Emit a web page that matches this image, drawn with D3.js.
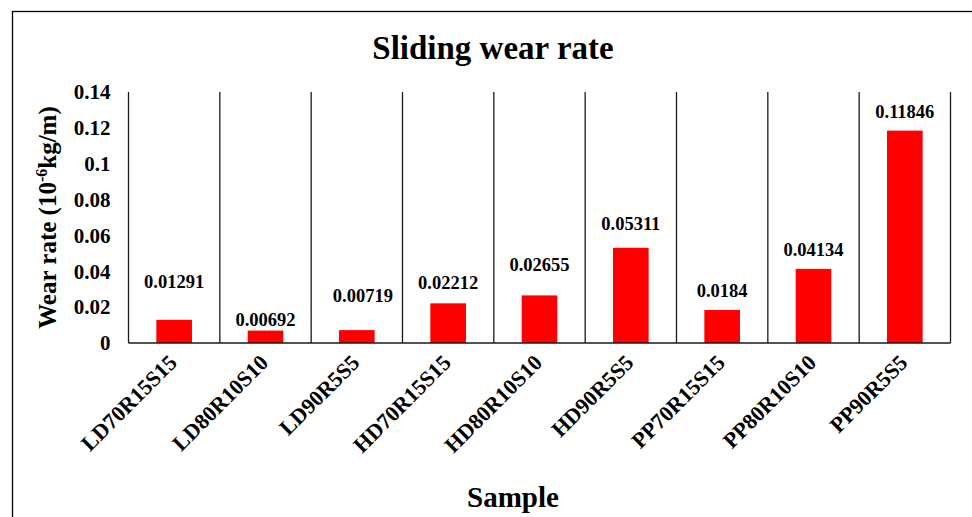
<!DOCTYPE html>
<meta charset="utf-8">
<style>
body { margin: 0; background: #fff; }
text { font-family: "Liberation Serif", "Times New Roman", serif; font-weight: bold; fill: #000; }
.grid line { stroke: #1a1a1a; stroke-width: 1.3; }
.bar { fill: #ff0000; }
</style>
<body>
<script src="https://d3js.org/d3.v7.min.js"></script>
<script>
// data
var categories = ["LD70R15S15", "LD80R10S10", "LD90R5S5", "HD70R15S15", "HD80R10S10",
                  "HD90R5S5", "PP70R15S15", "PP80R10S10", "PP90R5S5"];
var wearRate = [0.01291, 0.00692, 0.00719, 0.02212, 0.02655, 0.05311, 0.0184, 0.04134, 0.11846];
var yTicks = [0, 0.02, 0.04, 0.06, 0.08, 0.1, 0.12, 0.14];
var yTickLabels = ["0", "0.02", "0.04", "0.06", "0.08", "0.1", "0.12", "0.14"];

// data labels were dragged around a bit in the original
var labelLift = [32, 5, 28, 14, 24, 18, 13, 13, 13];
var labelShift = [0, 0, 6, 0, 0, 0, 0, 0, 0];

var w = 972, h = 517;
var plot = {left: 128.5, right: 950.5, top: 92, bottom: 343};

var svg = d3.select("body").append("svg")
    .attr("width", w)
    .attr("height", h);

// chart frame (runs off the right and bottom edge in the reference)
svg.append("rect")
    .attr("x", 12.5).attr("y", 11.5)
    .attr("width", 1000).attr("height", 600)
    .attr("fill", "none")
    .attr("stroke", "#000")
    .attr("stroke-width", 1.3);

var x = d3.scaleBand()
    .domain(categories)
    .range([plot.left, plot.right])
    .padding(0);

var y = d3.scaleLinear()
    .domain([0, 0.14])
    .range([plot.bottom, plot.top]);

// vertical gridlines on category boundaries
var bounds = categories.map(function(c){ return x(c); }).concat([plot.right]);
svg.append("g")
    .attr("class", "grid")
    .selectAll("line")
    .data(bounds)
    .enter().append("line")
    .attr("x1", function(d){ return d; })
    .attr("x2", function(d){ return d; })
    .attr("y1", plot.top)
    .attr("y2", plot.bottom);

var barW = x.bandwidth() * 0.39;

svg.append("g")
    .selectAll("rect")
    .data(wearRate)
    .enter().append("rect")
    .attr("class", "bar")
    .attr("x", function(d, i){ return x(categories[i]) + (x.bandwidth() - barW) / 2; })
    .attr("y", function(d){ return y(d); })
    .attr("width", barW)
    .attr("height", function(d){ return y(0) - y(d); });

// baseline
svg.append("line")
    .attr("x1", plot.left).attr("x2", plot.right)
    .attr("y1", plot.bottom).attr("y2", plot.bottom)
    .attr("stroke", "#1a1a1a")
    .attr("stroke-width", 1.5);

// value labels
svg.append("g")
    .selectAll("text")
    .data(wearRate)
    .enter().append("text")
    .attr("x", function(d, i){ return x(categories[i]) + x.bandwidth() / 2 + labelShift[i]; })
    .attr("y", function(d, i){ return y(d) - labelLift[i]; })
    .attr("text-anchor", "middle")
    .style("font-size", "18.5px")
    .text(function(d){ return String(d); });

// y axis
var yAxis = d3.axisLeft(y)
    .tickValues(yTicks)
    .tickSize(0)
    .tickPadding(18)
    .tickFormat(function(d, i){ return yTickLabels[i]; });

var gy = svg.append("g")
    .attr("transform", "translate(" + plot.left + ",0)")
    .call(yAxis);
gy.select(".domain").remove();
gy.selectAll("text")
    .attr("font-family", null)
    .style("font-size", "21px");

// x axis, labels turned 45 degrees
var xAxis = d3.axisBottom(x).tickSize(0).tickPadding(0);
var gx = svg.append("g")
    .attr("transform", "translate(0," + plot.bottom + ")")
    .call(xAxis);
gx.select(".domain").remove();
gx.selectAll("text")
    .attr("font-family", null)
    .style("font-size", "22px")
    .attr("text-anchor", "end")
    .attr("dy", null)
    .attr("y", 0)
    .attr("transform", "translate(4,21) rotate(-45)");

// titles
svg.append("text")
    .attr("x", 493)
    .attr("y", 59)
    .attr("text-anchor", "middle")
    .style("font-size", "33px")
    .text("Sliding wear rate");

svg.append("text")
    .attr("x", 513)
    .attr("y", 507)
    .attr("text-anchor", "middle")
    .style("font-size", "29px")
    .text("Sample");

var yt = svg.append("text")
    .attr("transform", "translate(56," + ((plot.top + plot.bottom) / 2) + ") rotate(-90)")
    .attr("text-anchor", "middle")
    .style("font-size", "25px");
yt.append("tspan").text("Wear rate (10");
yt.append("tspan").attr("dy", -9).style("font-size", "16px").text("-6");
yt.append("tspan").attr("dy", 9).text("kg/m)");
</script>
</body>
